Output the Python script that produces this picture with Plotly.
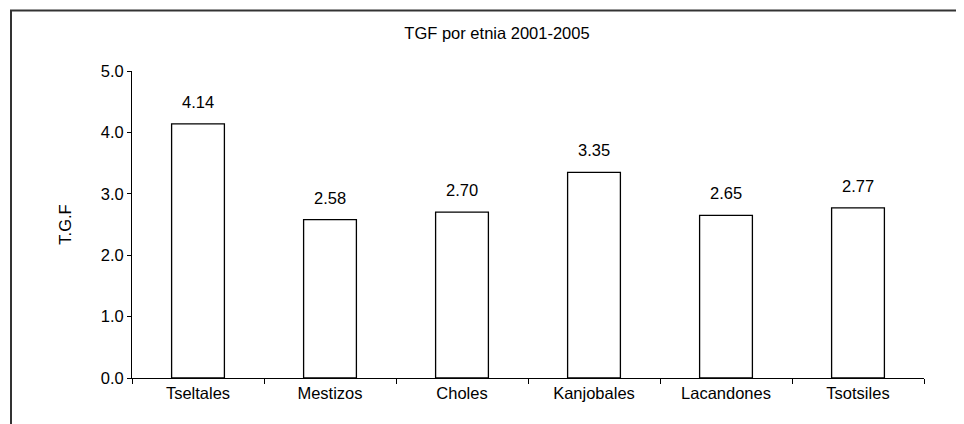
import plotly.graph_objects as go

categories = ["Tseltales", "Mestizos", "Choles", "Kanjobales", "Lacandones", "Tsotsiles"]
values = [4.14, 2.58, 2.70, 3.35, 2.65, 2.77]
value_labels = ["4.14", "2.58", "2.70", "3.35", "2.65", "2.77"]
y_ticks = [0, 1, 2, 3, 4, 5]
y_tick_labels = ["0.0", "1.0", "2.0", "3.0", "4.0", "5.0"]

FONT = "Liberation Sans, Arial, sans-serif"
FS = 16.5
OFF = 8  # page body margin in the browser

# target plot area in the screenshot
PX_L, PX_R, PY_T, PY_B = 132, 924, 70.7, 378.3

fig = go.Figure(
    go.Bar(
        x=categories,
        y=values,
        marker=dict(color="white", line=dict(color="black", width=1.3)),
        width=0.4,
        showlegend=False,
        hoverinfo="x+y",
    )
)

annotations = [
    dict(
        x=c, y=v, xref="x", yref="y", text=t, showarrow=False,
        yanchor="middle", yshift=22,
        font=dict(family=FONT, size=FS, color="black"),
    )
    for c, v, t in zip(categories, values, value_labels)
]

pw = PX_R - PX_L
ph = PY_B - PY_T

fig.update_layout(
    width=964,
    height=424,
    margin=dict(l=PX_L - OFF, r=964 + OFF - PX_R, t=PY_T - OFF, b=424 + OFF - PY_B, autoexpand=False),
    paper_bgcolor="white",
    plot_bgcolor="white",
    font=dict(family=FONT, size=FS, color="black"),
    title=dict(
        text="TGF por etnia 2001-2005",
        x=(497 - OFF) / 964,
        xanchor="center",
        y=1 - (33 - OFF) / 424,
        yanchor="middle",
        font=dict(family=FONT, size=FS, color="black"),
    ),
    xaxis=dict(
        showline=True,
        linecolor="black",
        linewidth=1,
        ticks="outside",
        ticklen=5,
        tickcolor="black",
        tickson="boundaries",
        showgrid=False,
        tickfont=dict(family=FONT, size=FS, color="black"),
    ),
    yaxis=dict(
        range=[0, 5],
        tickvals=y_ticks,
        ticktext=y_tick_labels,
        showline=True,
        linecolor="black",
        linewidth=1,
        ticks="outside",
        ticklen=4,
        tickcolor="black",
        showgrid=False,
        zeroline=False,
        tickfont=dict(family=FONT, size=FS, color="black"),
        title=dict(text="T.G.F", standoff=24, font=dict(family=FONT, size=FS, color="black")),
    ),
    annotations=annotations,
    shapes=[
        dict(
            type="rect",
            xref="paper",
            yref="paper",
            x0=(11 - PX_L) / pw,
            x1=(980 - PX_L) / pw,
            y0=(PY_B - 440) / ph,
            y1=(PY_B - 10) / ph,
            line=dict(color="#333333", width=2),
            fillcolor="rgba(0,0,0,0)",
            layer="above",
        )
    ],
)

fig.write_html("out.html")
